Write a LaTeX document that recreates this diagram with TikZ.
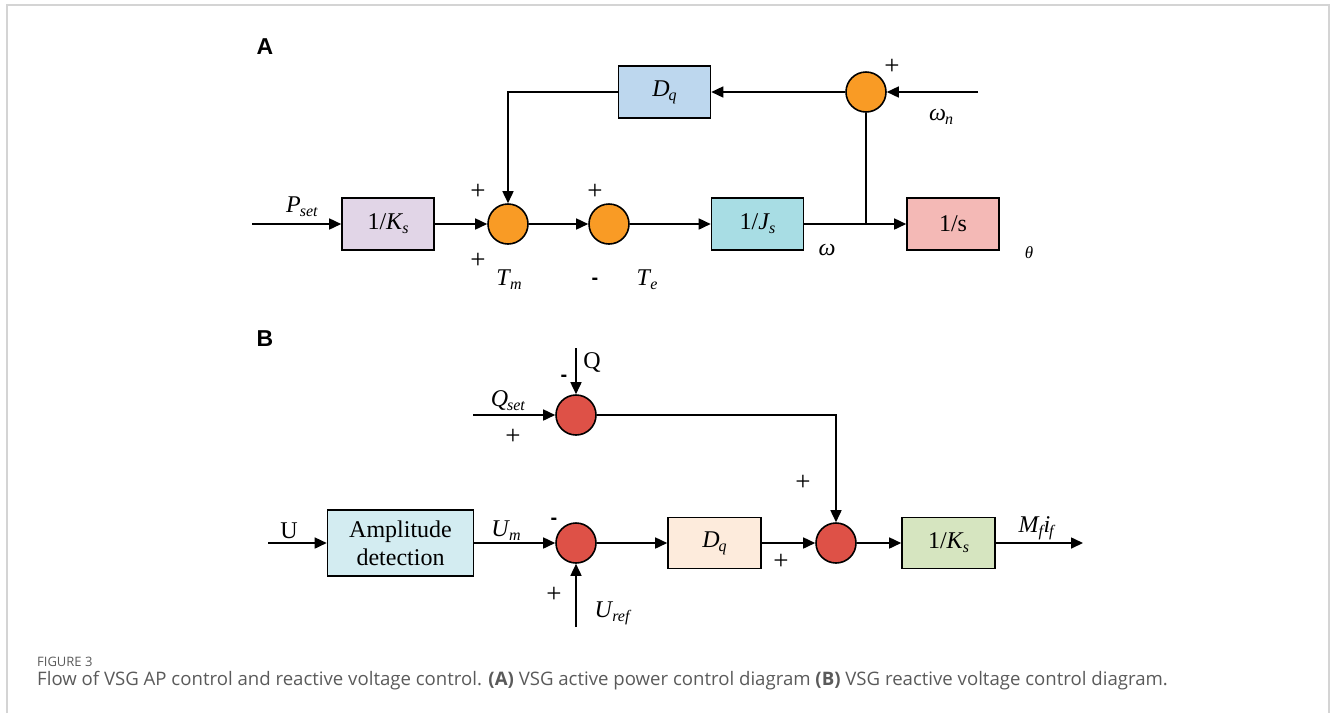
\documentclass[tikz,border=0pt]{standalone}
\usepackage{fontspec}
\setmainfont{Liberation Serif}
\newfontfamily\capfont{Open Sans}
\newfontfamily\hfont{Liberation Sans}
\usetikzlibrary{arrows.meta}
\newcommand\lbl[2]{\textit{#1}\kern-0.04em\raisebox{-0.35ex}{\fontsize{16}{16}\selectfont\textit{#2}}}
\definecolor{cKsA}{HTML}{E1D5E7}
\definecolor{cDqA}{HTML}{BDD7EE}
\definecolor{cJs}{HTML}{A8DDE4}
\definecolor{cS}{HTML}{F4B9B6}
\definecolor{cOr}{HTML}{F99B25}
\definecolor{cRed}{HTML}{DE5147}
\definecolor{cAmp}{HTML}{D3ECF1}
\definecolor{cDqB}{HTML}{FDEBDC}
\definecolor{cKsB}{HTML}{D6E5C0}
\definecolor{cBord}{HTML}{D4D4D4}
\definecolor{cCap}{HTML}{5A5A5A}
\begin{document}
\begin{tikzpicture}[x=1pt,y=-1pt,
  blk/.style={draw=black,line width=1.6pt,minimum width=92pt,minimum height=52pt,inner sep=0pt,font=\fontsize{24}{26}\selectfont},
  sumA/.style={circle,draw=black,line width=1.6pt,fill=cOr,minimum size=40pt,inner sep=0pt},
  sumB/.style={circle,draw=black,line width=1.6pt,fill=cRed,minimum size=40pt,inner sep=0pt},
  arr/.style={line width=1.6pt,-{Triangle[length=12pt,width=11pt]}},
  ln/.style={line width=1.6pt},
  lab/.style={inner sep=0pt,font=\fontsize{24}{26}\selectfont},
  pls/.style={inner sep=0pt,font=\fontsize{27}{28}\selectfont},
  mns/.style={inner sep=0pt,font=\hfont\bfseries\fontsize{20}{22}\selectfont},
  panel/.style={inner sep=0pt,font=\hfont\bfseries\fontsize{23}{24}\selectfont}]
\useasboundingbox (0,0) rectangle (1330,713);
\draw[cBord,line width=1.4pt] (7,713) -- (7,5) -- (1329,5) -- (1329,713);

% ---------- Panel A ----------
\node[panel] (pA) at (265,47) {A};
\node[blk,fill=cKsA] (ksA) at (388,224) {1/\lbl{K}{s}};
\node[sumA] (s1) at (508,224) {};
\node[sumA] (s2) at (609,224) {};
\node[blk,fill=cJs] (js) at (757.5,224) {1/\lbl{J}{s}};
\node[blk,fill=cS] (integ) at (953,224) {1/s};
\node[blk,fill=cDqA] (dqA) at (664.5,92) {\lbl{D}{q}};
\node[sumA] (s3) at (866,92) {};
\coordinate (pin) at (252,224);
\coordinate (wn) at (978,92);
\coordinate (jn) at (866,224);

\draw[arr] (pin) -- (ksA);
\draw[arr] (ksA) -- (s1);
\draw[arr] (s1) -- (s2);
\draw[arr] (s2) -- (js);
\draw[arr] (js) -- (integ);
\draw[ln] (jn) -- (s3.south);
\draw[arr] (wn) -- (s3);
\draw[arr] (s3) -- (dqA);
\draw[arr] (dqA.west) -| (s1.north);

\node[lab] (lPset) at (302,207) {\lbl{P}{set}};
\node[pls] (p1) at (478,192) {+};
\node[pls] (p2) at (478,261) {+};
\node[lab] (lTm) at (509,280) {\lbl{T}{m}};
\node[pls] (p3) at (595,192) {+};
\node[mns] (m1) at (595,281) {-};
\node[lab] (lTe) at (647,280) {\lbl{T}{e}};
\node[lab] (lw) at (827,250) {\textit{ω}};
\node[inner sep=0pt,font=\fontsize{17}{18}\selectfont] (lth) at (1029,253) {\textit{θ}};
\node[pls] (p4) at (892,67) {+};
\node[lab] (lwn) at (941,117) {\lbl{ω}{n}};

% ---------- Panel B ----------
\node[panel] (pB) at (265,339) {B};
\node[sumB] (b1) at (576,415) {};
\coordinate (qin) at (576,348);
\coordinate (qsetin) at (473,415);
\node[blk,fill=cAmp,minimum width=146pt,minimum height=66pt,align=center,font=\fontsize{24}{28}\selectfont] (amp) at (400.5,543) {Amplitude\\detection};
\coordinate (uin) at (268,543);
\node[sumB] (b2) at (576,543) {};
\coordinate (urefin) at (576,627);
\node[blk,fill=cDqB,minimum width=93pt,minimum height=51pt] (dqB) at (714.5,543) {\lbl{D}{q}};
\node[sumB] (b3) at (836,543) {};
\node[blk,fill=cKsB,minimum width=93pt,minimum height=51pt] (ksB) at (948.5,543) {1/\lbl{K}{s}};
\coordinate (out) at (1083,543);

\draw[arr] (qin) -- (b1);
\draw[arr] (qsetin) -- (b1);
\draw[arr] (b1.east) -| (b3.north);
\draw[arr] (uin) -- (amp);
\draw[arr] (amp) -- (b2);
\draw[arr] (urefin) -- (b2);
\draw[arr] (b2) -- (dqB);
\draw[arr] (dqB) -- (b3);
\draw[arr] (b3) -- (ksB);
\draw[arr] (ksB) -- (out);

\node[lab] (lQ) at (592,362) {Q};
\node[mns] (m2) at (564,378) {-};
\node[lab] (lQset) at (508,401) {\lbl{Q}{set}};
\node[pls] (p5) at (513,437) {+};
\node[lab] (lU) at (289,531) {U};
\node[lab] (lUm) at (506,531) {\lbl{U}{m}};
\node[mns] (m3) at (554,521) {-};
\node[pls] (p6) at (554,595) {+};
\node[lab] (lUref) at (613,613) {\lbl{U}{ref}};
\node[pls] (p7) at (803,483) {+};
\node[pls] (p8) at (781,562) {+};
\node[lab] (lMf) at (1037,528) {\lbl{M}{f}\kern-0.06em\lbl{i}{f}};

% ---------- Caption ----------
\node[anchor=base west,inner sep=0pt,text=cCap,font=\capfont\fontsize{13}{15}\selectfont] (cap1) at (37,666) {FIGURE 3};
\node[anchor=base west,inner sep=0pt,text=cCap,font=\capfont\fontsize{18.6}{20}\selectfont] (cap2) at (37,685) {Flow of VSG AP control and reactive voltage control. \textbf{(A)} VSG active power control diagram \textbf{(B)} VSG reactive voltage control diagram.};
\end{tikzpicture}
\end{document}
